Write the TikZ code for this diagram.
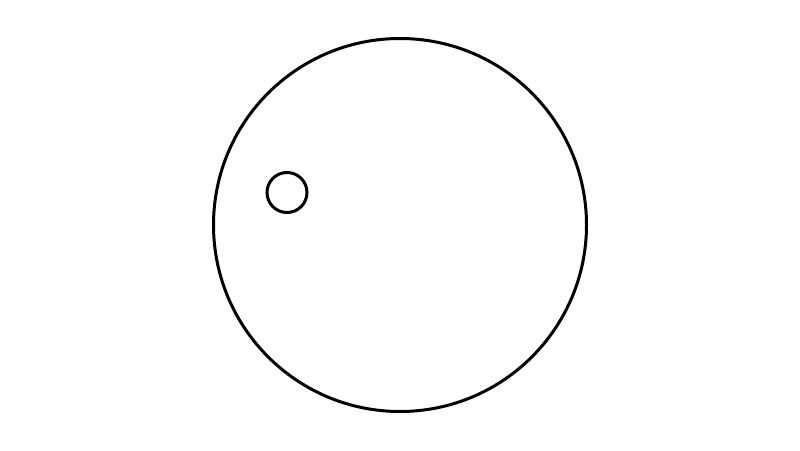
\documentclass[tikz,border=0pt]{standalone}
\begin{document}
\begin{tikzpicture}[x=1pt,y=-1pt,ring/.style={draw=black,line width=3pt}]
\useasboundingbox (0,0) rectangle (800,450);
\fill[white] (0,0) rectangle (800,450);
\node[ring,circle,minimum size=373pt,inner sep=0pt] (big) at (400,225) {};
\node[ring,circle,minimum size=40pt,inner sep=0pt] (small) at (287,192.5) {};
\end{tikzpicture}
\end{document}
